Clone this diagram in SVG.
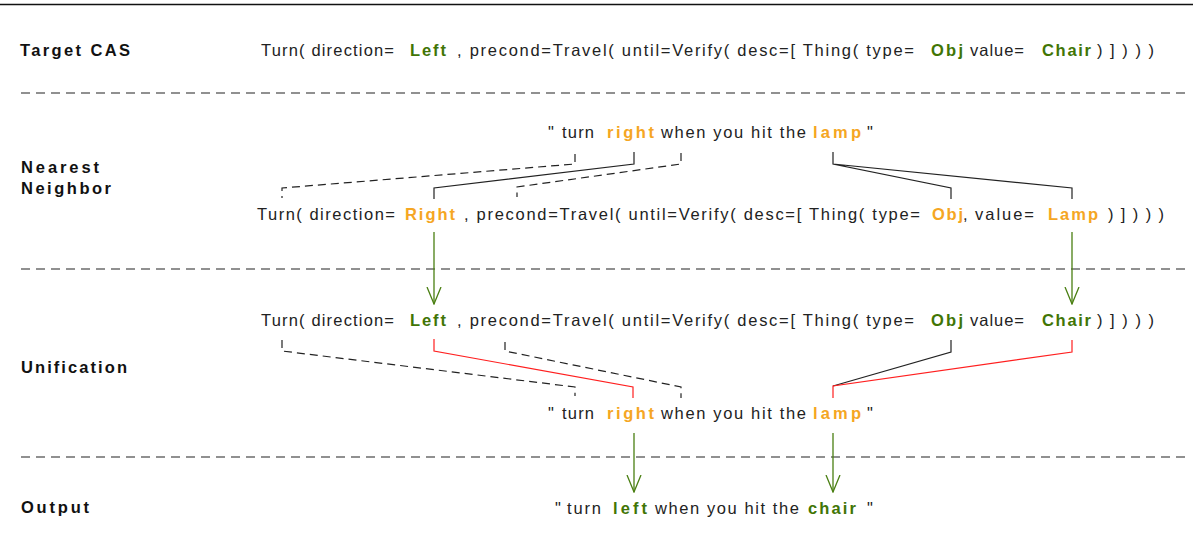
<svg xmlns="http://www.w3.org/2000/svg" width="1193" height="542" viewBox="0 0 1193 542">
  <style>
    text { font-family: "Liberation Sans", Arial, sans-serif; font-size: 16.5px; fill: #222; }
    .lbl { font-weight: bold; fill: #111; }
    .g { font-weight: bold; fill: #417505; }
    .o { font-weight: bold; fill: #f5a623; }
    .sep { stroke: #222; stroke-width: 1.2; stroke-dasharray: 9 6; fill: none; }
    .dash { stroke: #222; stroke-width: 1.2; stroke-dasharray: 8 5; fill: none; }
    .solid { stroke: #222; stroke-width: 1.2; fill: none; }
    .red { stroke: #ff1f1f; stroke-width: 1.2; fill: none; }
    .arrow { stroke: #4a7f12; stroke-width: 1.3; fill: none; marker-end: url(#vhead); }
  </style>
  <defs>
    <marker id="vhead" viewBox="0 0 18 16" refX="17" refY="8" markerWidth="18" markerHeight="16" markerUnits="userSpaceOnUse" orient="auto">
      <path d="M0,1 L17,8 L0,15" fill="none" stroke="#4a7f12" stroke-width="1.3"/>
    </marker>
  </defs>

  <rect width="1193" height="542" fill="#fff"/>

  <!-- frame rule and section separators -->
  <g id="separators">
    <line x1="0" y1="4.5" x2="1193" y2="4.5" stroke="#111" stroke-width="1.5"/>
    <line class="sep" x1="21" y1="93" x2="1186" y2="93"/>
    <line class="sep" x1="21" y1="269" x2="1186" y2="269"/>
    <line class="sep" x1="21" y1="457" x2="1186" y2="457"/>
  </g>

  <!-- row labels -->
  <g id="labels">
    <text class="lbl" x="20" y="56" textLength="110" lengthAdjust="spacing">Target CAS</text>
    <text class="lbl" x="21" y="173" textLength="78" lengthAdjust="spacing">Nearest</text>
    <text class="lbl" x="21" y="194" textLength="90" lengthAdjust="spacing">Neighbor</text>
    <text class="lbl" x="21" y="373" textLength="106" lengthAdjust="spacing">Unification</text>
    <text class="lbl" x="21" y="513" textLength="68" lengthAdjust="spacing">Output</text>
  </g>

  <!-- target logical form -->
  <g id="target-cas">
    <text x="261" y="56" textLength="133" lengthAdjust="spacing">Turn( direction=</text>
    <text class="g" x="410" y="56" textLength="36" lengthAdjust="spacing">Left</text>
    <text x="457" y="56" textLength="457" lengthAdjust="spacing">, precond=Travel( until=Verify( desc=[ Thing( type=</text>
    <text class="g" x="931" y="56" textLength="32" lengthAdjust="spacing">Obj</text>
    <text x="970" y="56" textLength="54" lengthAdjust="spacing">value=</text>
    <text class="g" x="1042" y="56" textLength="49" lengthAdjust="spacing">Chair</text>
    <text x="1097" y="56" textLength="57" lengthAdjust="spacing">) ] ) ) )</text>
  </g>

  <!-- nearest neighbour: retrieved sentence -->
  <g id="nn-sentence">
    <text x="548" y="138">"</text>
    <text x="562" y="138" textLength="32" lengthAdjust="spacing">turn</text>
    <text class="o" x="607" y="138" textLength="47" lengthAdjust="spacing">right</text>
    <text x="661" y="138" textLength="145" lengthAdjust="spacing">when you hit the</text>
    <text class="o" x="813" y="138" textLength="48" lengthAdjust="spacing">lamp</text>
    <text x="867" y="138">"</text>
  </g>

  <!-- nearest neighbour: its logical form -->
  <g id="nn-cas">
    <text x="257" y="220" textLength="138" lengthAdjust="spacing">Turn( direction=</text>
    <text class="o" x="405" y="220" textLength="50" lengthAdjust="spacing">Right</text>
    <text x="464" y="220" textLength="456" lengthAdjust="spacing">, precond=Travel( until=Verify( desc=[ Thing( type=</text>
    <text class="o" x="932" y="220" textLength="31" lengthAdjust="spacing">Obj</text>
    <text x="963" y="220">,</text>
    <text x="975" y="220" textLength="59" lengthAdjust="spacing">value=</text>
    <text class="o" x="1048" y="220" textLength="50" lengthAdjust="spacing">Lamp</text>
    <text x="1108" y="220" textLength="56" lengthAdjust="spacing">) ] ) ) )</text>
  </g>

  <!-- unification: substituted logical form -->
  <g id="unif-cas">
    <text x="261" y="326" textLength="133" lengthAdjust="spacing">Turn( direction=</text>
    <text class="g" x="410" y="326" textLength="36" lengthAdjust="spacing">Left</text>
    <text x="457" y="326" textLength="457" lengthAdjust="spacing">, precond=Travel( until=Verify( desc=[ Thing( type=</text>
    <text class="g" x="931" y="326" textLength="32" lengthAdjust="spacing">Obj</text>
    <text x="970" y="326" textLength="54" lengthAdjust="spacing">value=</text>
    <text class="g" x="1042" y="326" textLength="49" lengthAdjust="spacing">Chair</text>
    <text x="1097" y="326" textLength="57" lengthAdjust="spacing">) ] ) ) )</text>
  </g>

  <!-- unification: sentence being edited -->
  <g id="unif-sentence">
    <text x="548" y="419">"</text>
    <text x="562" y="419" textLength="32" lengthAdjust="spacing">turn</text>
    <text class="o" x="607" y="419" textLength="47" lengthAdjust="spacing">right</text>
    <text x="661" y="419" textLength="145" lengthAdjust="spacing">when you hit the</text>
    <text class="o" x="813" y="419" textLength="48" lengthAdjust="spacing">lamp</text>
    <text x="867" y="419">"</text>
  </g>

  <!-- generated output -->
  <g id="output-sentence">
    <text x="555" y="514">"</text>
    <text x="567" y="514" textLength="34" lengthAdjust="spacing">turn</text>
    <text class="g" x="613" y="514" textLength="34" lengthAdjust="spacing">left</text>
    <text x="655" y="514" textLength="144" lengthAdjust="spacing">when you hit the</text>
    <text class="g" x="808" y="514" textLength="48" lengthAdjust="spacing">chair</text>
    <text x="867" y="514">"</text>
  </g>

  <!-- alignment links and substitution arrows -->
  <g id="connectors">
    <!-- sentence tokens to nearest-neighbour form -->
    <path class="dash" d="M575,154 V164 L282,188 V198"/>
    <path class="solid" d="M634,152 V164 L434,188 V199"/>
    <path class="dash" d="M681,153 V164 L517,187 V197"/>
    <path class="solid" d="M833,152 V164 L951,188 V199 M833,164 L1072,188 V199"/>

    <!-- substituted values -->
    <path class="arrow" d="M434,232 V304"/>
    <path class="arrow" d="M1072,232 V304"/>

    <!-- unified form back to sentence tokens -->
    <path class="dash" d="M282,340 V351 L575,387 V396"/>
    <path class="red" d="M434,339 V351 L633,387 V398"/>
    <path class="dash" d="M505,342 V351 L681,387 V398"/>
    <path class="solid" d="M951,340 V352 L833,386"/>
    <path class="red" d="M1072,340 V352 L833,386 V398"/>

    <!-- rewritten tokens -->
    <path class="arrow" d="M634,433 V492"/>
    <path class="arrow" d="M833,433 V492"/>
  </g>
</svg>
